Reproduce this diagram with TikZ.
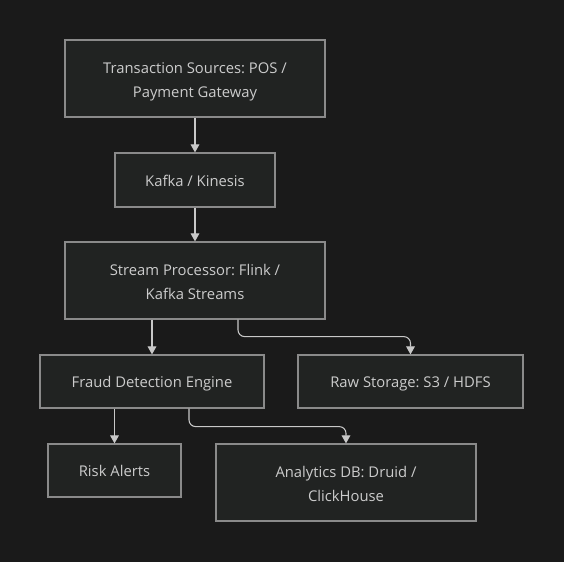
\documentclass[tikz,border=0pt]{standalone}
\usepackage{fontspec}
\setmainfont{Open Sans}
\usetikzlibrary{arrows.meta}
\definecolor{bgc}{HTML}{1A1A1A}
\definecolor{boxfill}{HTML}{212322}
\definecolor{boxline}{HTML}{8A8A8A}
\definecolor{txt}{HTML}{CCCCCC}
\definecolor{arrc}{HTML}{C8C8C8}
\newcommand{\boxline}[1]{\raisebox{-5.5pt}[0pt][0pt]{#1}}
\newcommand{\oneline}[1]{\raisebox{-4.75pt}[0pt][0pt]{#1}}
\begin{document}
\frenchspacing
\begin{tikzpicture}[x=0.75pt,y=-0.75pt,
  box/.style={draw=boxline,fill=boxfill,line width=0.9pt,text=txt,align=center,
    inner sep=0pt,font=\fontsize{11.1}{18}\selectfont},
  arr/.style={draw=arrc,line width=0.8pt,-{Triangle[length=6pt,width=6.5pt]}},
  elbowarr/.style={arr,rounded corners=5pt}]
\fill[bgc] (0,0) rectangle (564,562);
\useasboundingbox (0,0) rectangle (564,562);
\node[box,minimum width=195pt,minimum height=57.75pt] (src) at (195,78.5) {\boxline{Transaction Sources: POS /}\\\boxline{Payment Gateway}};
\node[box,minimum width=120pt,minimum height=40.5pt] (kaf) at (195,180) {\oneline{Kafka / Kinesis}};
\node[box,minimum width=195pt,minimum height=57.75pt] (proc) at (195,280.5) {\boxline{Stream Processor: Flink /}\\\boxline{Kafka Streams}};
\node[box,minimum width=168pt,minimum height=39.75pt] (fraud) at (152,381.5) {\oneline{Fraud Detection Engine}};
\node[box,minimum width=168.75pt,minimum height=39.75pt] (raw) at (410.5,381.5) {\oneline{Raw Storage: S3 / HDFS}};
\node[box,minimum width=99.75pt,minimum height=39.75pt] (risk) at (114.5,470.5) {\oneline{Risk Alerts}};
\node[box,minimum width=195pt,minimum height=57.75pt] (ana) at (346,482.5) {\boxline{Analytics DB: Druid /}\\\boxline{ClickHouse}};
\draw[arr] (src) -- (kaf);
\draw[arr] (kaf) -- (proc);
\draw[arr] (proc.south -| fraud) -- (fraud);
\draw[elbowarr] ([xshift=32.25pt]proc.south) -- ++(0,17) -| (raw.north);
\draw[arr] (fraud.south -| risk) -- (risk);
\draw[elbowarr] ([xshift=27.75pt]fraud.south) -- ++(0,18) -| (ana.north);
\end{tikzpicture}
\end{document}
